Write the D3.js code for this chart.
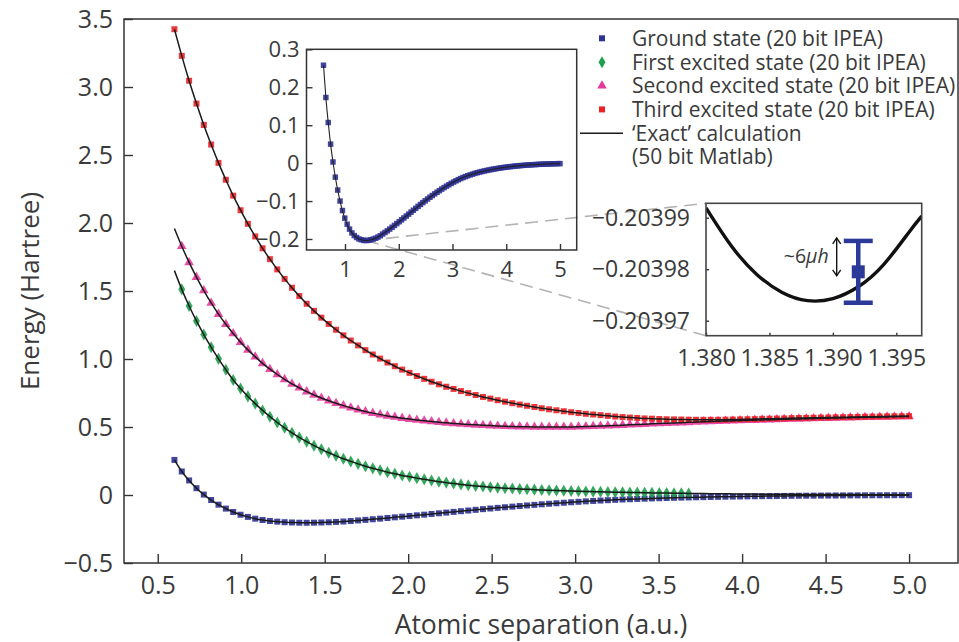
<!DOCTYPE html>
<html>
<head>
<meta charset="utf-8">
<script src="https://cdn.jsdelivr.net/npm/d3@7"></script>
<style>
  html, body { margin: 0; padding: 0; background: #fff; }
  svg { display: block; font-family: "Open Sans", sans-serif; }
</style>
</head>
<body>
<svg id="chart" width="959" height="642"></svg>
<script>
// Atomic separation grid (a.u.)
const separation = [
  0.600, 0.644, 0.688, 0.732, 0.776, 0.820, 0.864, 0.908, 0.952, 0.996,
  1.040, 1.084, 1.128, 1.172, 1.216, 1.260, 1.304, 1.348, 1.392, 1.436,
  1.480, 1.524, 1.568, 1.612, 1.656, 1.700, 1.744, 1.788, 1.832, 1.876,
  1.920, 1.964, 2.008, 2.052, 2.096, 2.140, 2.184, 2.228, 2.272, 2.316,
  2.360, 2.404, 2.448, 2.492, 2.536, 2.580, 2.624, 2.668, 2.712, 2.756,
  2.800, 2.844, 2.888, 2.932, 2.976, 3.020, 3.064, 3.108, 3.152, 3.196,
  3.240, 3.284, 3.328, 3.372, 3.416, 3.460, 3.504, 3.548, 3.592, 3.636,
  3.680, 3.724, 3.768, 3.812, 3.856, 3.900, 3.944, 3.988, 4.032, 4.076,
  4.120, 4.164, 4.208, 4.252, 4.296, 4.340, 4.384, 4.428, 4.472, 4.516,
  4.560, 4.604, 4.648, 4.692, 4.736, 4.780, 4.824, 4.868, 4.912, 4.956,
  5.000
];

// Energies (Hartree) on the separation grid
const groundState = [
  0.258, 0.173, 0.107, 0.050, 0.003, -0.037, -0.071, -0.100, -0.125, -0.145,
  -0.161, -0.174, -0.184, -0.191, -0.196, -0.200, -0.202, -0.2037, -0.2040, -0.2035,
  -0.2022, -0.2003, -0.198, -0.195, -0.1915, -0.187, -0.1828, -0.1784, -0.1738, -0.1691,
  -0.1643, -0.1594, -0.1545, -0.1495, -0.1445, -0.1395, -0.1345, -0.1293, -0.1242, -0.1191,
  -0.1140, -0.1090, -0.1041, -0.0993, -0.0946, -0.0900, -0.0855, -0.0811, -0.0768, -0.0726,
  -0.0685, -0.0645, -0.0607, -0.0570, -0.0534, -0.0500, -0.0467, -0.0436, -0.0407, -0.0380,
  -0.0355, -0.0332, -0.0310, -0.0290, -0.0271, -0.0253, -0.0236, -0.0221, -0.0206, -0.0193,
  -0.0180, -0.0168, -0.0157, -0.0146, -0.0136, -0.0126, -0.0117, -0.0108, -0.0100, -0.0093,
  -0.0086, -0.0079, -0.0073, -0.0067, -0.0062, -0.0057, -0.0052, -0.0048, -0.0044, -0.0040,
  -0.0036, -0.0033, -0.0030, -0.0027, -0.0025, -0.0022, -0.0020, -0.0018, -0.0016, -0.0014,
  -0.0013
];

const firstExcited = [
  1.650, 1.512, 1.390, 1.280, 1.180, 1.087, 1.001, 0.921, 0.846, 0.783,
  0.725, 0.672, 0.622, 0.576, 0.533, 0.494, 0.457, 0.423, 0.392, 0.363,
  0.336, 0.311, 0.288, 0.267, 0.247, 0.229, 0.212, 0.196, 0.182, 0.168,
  0.156, 0.144, 0.134, 0.124, 0.115, 0.106, 0.098, 0.091, 0.084, 0.078,
  0.072, 0.067, 0.062, 0.057, 0.0535, 0.0502, 0.0472, 0.0444, 0.0418, 0.0394,
  0.0371, 0.0350, 0.0330, 0.0311, 0.0294, 0.0277, 0.0262, 0.0247, 0.0233, 0.0220,
  0.0208, 0.0196, 0.0185, 0.0175, 0.0165, 0.0156, 0.0147, 0.0139, 0.0131, 0.0124,
  0.0117, 0.0110, 0.0103, 0.0097, 0.0091, 0.0086, 0.0081, 0.0076, 0.0071, 0.0067,
  0.0063, 0.0059, 0.0056, 0.0052, 0.0049, 0.0046, 0.0043, 0.0041, 0.0038, 0.0036,
  0.0034, 0.0032, 0.0030, 0.0028, 0.0026, 0.0025, 0.0023, 0.0022, 0.0020, 0.0019,
  0.0018
];

const secondExcited = [
  1.960, 1.829, 1.710, 1.602, 1.503, 1.412, 1.330, 1.255, 1.187, 1.124,
  1.067, 1.016, 0.968, 0.925, 0.886, 0.850, 0.817, 0.788, 0.760, 0.736,
  0.713, 0.693, 0.674, 0.657, 0.641, 0.627, 0.614, 0.602, 0.591, 0.5815,
  0.573, 0.5652, 0.558, 0.5514, 0.5454, 0.540, 0.535, 0.5304, 0.5262, 0.5224,
  0.5189, 0.5157, 0.5128, 0.5102, 0.5079, 0.5058, 0.504, 0.5025, 0.5013, 0.5004,
  0.4998, 0.4995, 0.4995, 0.4998, 0.5004, 0.5015, 0.503, 0.5048, 0.5068, 0.509,
  0.5113, 0.5137, 0.5161, 0.5185, 0.5209, 0.5232, 0.5255, 0.5277, 0.5299, 0.532,
  0.5341, 0.5361, 0.5381, 0.540, 0.5419, 0.5437, 0.5455, 0.5472, 0.5489, 0.5505,
  0.5521, 0.5537, 0.5552, 0.5567, 0.5582, 0.5596, 0.561, 0.5624, 0.5637, 0.565,
  0.5663, 0.5675, 0.5687, 0.5699, 0.5711, 0.5722, 0.5733, 0.5744, 0.5755, 0.5765,
  0.5775
];

const thirdExcited = [
  3.425, 3.229, 3.046, 2.878, 2.721, 2.577, 2.442, 2.318, 2.201, 2.094,
  1.994, 1.901, 1.814, 1.734, 1.659, 1.589, 1.524, 1.463, 1.406, 1.354,
  1.304, 1.258, 1.215, 1.174, 1.136, 1.100, 1.065, 1.033, 1.003, 0.974,
  0.947, 0.922, 0.898, 0.875, 0.854, 0.833, 0.814, 0.796, 0.780, 0.764,
  0.749, 0.735, 0.721, 0.709, 0.697, 0.686, 0.675, 0.665, 0.656, 0.647,
  0.638, 0.630, 0.623, 0.616, 0.609, 0.603, 0.597, 0.592, 0.587, 0.582,
  0.577, 0.573, 0.569, 0.566, 0.563, 0.561, 0.559, 0.557, 0.556, 0.555,
  0.554, 0.553, 0.553, 0.553, 0.553, 0.554, 0.555, 0.556, 0.557, 0.558,
  0.560, 0.561, 0.562, 0.563, 0.565, 0.566, 0.567, 0.568, 0.569, 0.570,
  0.571, 0.572, 0.573, 0.574, 0.575, 0.576, 0.577, 0.578, 0.579, 0.579,
  0.580
];

// Index range of the IPEA points for each state
const ipeaFirst = [0, 1, 1, 0];
const ipeaLast = [100, 70, 100, 100];

const stateLabels = [
  "Ground state (20 bit IPEA)",
  "First excited state (20 bit IPEA)",
  "Second excited state (20 bit IPEA)",
  "Third excited state (20 bit IPEA)"
];
const exactLabel = ["\u2018Exact\u2019 calculation", "(50 bit Matlab)"];

// Tick values
const xTicksMain = [0.5, 1.0, 1.5, 2.0, 2.5, 3.0, 3.5, 4.0, 4.5, 5.0];
const yTicksMain = [-0.5, 0, 0.5, 1.0, 1.5, 2.0, 2.5, 3.0, 3.5];
const xTicksInset = [1, 2, 3, 4, 5];
const yTicksInset = [-0.2, -0.1, 0, 0.1, 0.2, 0.3];
const xTicksZoom = [1.380, 1.385, 1.390, 1.395];
const yTicksZoom = [-0.20399, -0.20398, -0.20397];

// Close-up of the ground-state minimum
const zoomSeparation = [1.380, 1.382, 1.384, 1.386, 1.388, 1.390, 1.392, 1.394, 1.396, 1.397];
const zoomExact = [-0.2039919, -0.2039845, -0.2039790, -0.2039755, -0.2039739,
                   -0.2039743, -0.2039766, -0.2039809, -0.2039872, -0.2039903];
const ipeaSeparation = 1.392;
const ipeaEnergy = -0.2039795;
const ipeaError = 0.0000060;

// ---------------------------------------------------------------
const ink = "#3a3a3a";
const frameColor = "#333";
const colors = ["#2e3192", "#1f9e4c", "#e5399b", "#ec2227"];
const symbols = [d3.symbolSquare, d3.symbolDiamond, d3.symbolTriangle, d3.symbolSquare];
const symbolSizes = [36, 42, 40, 36];
const stateValues = [groundState, firstExcited, secondExcited, thirdExcited];

const svg = d3.select("#chart");

function styleAxis(g, size) {
  g.select(".domain").remove();
  g.selectAll(".tick line").attr("stroke", frameColor).attr("stroke-width", 1.4);
  g.selectAll(".tick text")
    .attr("fill", ink)
    .style("font-size", size + "px")
    .style("font-family", "'Open Sans', sans-serif");
}
const fmtTenths = d => (d === 0 ? "0" : d3.format(".1f")(d));

// ---------------- main panel ----------------
const xMain = d3.scaleLinear().domain([0.298, 5.293]).range([124, 958]);
const yMain = d3.scaleLinear().domain([-0.5, 3.5]).range([563, 19]);

svg.append("g").attr("transform", "translate(0,563)")
  .call(d3.axisBottom(xMain).tickValues(xTicksMain).tickSize(-9).tickPadding(13)
    .tickFormat(d3.format(".1f")))
  .call(g => styleAxis(g, 25));

svg.append("g").attr("transform", "translate(124,0)")
  .call(d3.axisLeft(yMain).tickValues(yTicksMain).tickSize(-9).tickPadding(11)
    .tickFormat(fmtTenths))
  .call(g => styleAxis(g, 25));

svg.append("rect")
  .attr("x", xMain.range()[0]).attr("y", yMain.range()[1])
  .attr("width", xMain.range()[1] - xMain.range()[0])
  .attr("height", yMain.range()[0] - yMain.range()[1])
  .attr("fill", "none").attr("stroke", frameColor).attr("stroke-width", 1.5);

svg.append("text")
  .attr("x", (xMain.range()[0] + xMain.range()[1]) / 2).attr("y", 634)
  .attr("text-anchor", "middle").attr("fill", ink).style("font-size", "26.5px")
  .text("Atomic separation (a.u.)");

svg.append("text")
  .attr("transform", `translate(39,${(yMain.range()[0] + yMain.range()[1]) / 2}) rotate(-90)`)
  .attr("text-anchor", "middle").attr("fill", ink).style("font-size", "26px")
  .text("Energy (Hartree)");

// IPEA points
const mainPoints = svg.append("g");
stateValues.forEach((vals, s) => {
  const pts = separation.map((r, i) => ({ r, e: vals[i], i }))
    .filter(p => p.i >= ipeaFirst[s] && p.i <= ipeaLast[s]);
  mainPoints.selectAll(null).data(pts).enter().append("path")
    .attr("d", d3.symbol().type(symbols[s]).size(symbolSizes[s]))
    .attr("transform", p => `translate(${xMain(p.r)},${yMain(p.e)})`)
    .attr("fill", colors[s]).attr("fill-opacity", 0.9);
});

// exact curves
const mainLine = d3.line()
  .x((d, i) => xMain(separation[i]))
  .y(d => yMain(d))
  .curve(d3.curveMonotoneX);
stateValues.forEach(vals => {
  svg.append("path").attr("d", mainLine(vals))
    .attr("fill", "none").attr("stroke", "#1a1a1a").attr("stroke-width", 1.5);
});

// ---------------- legend ----------------
const legendX = 602, legendTextX = 632;
const legendRows = [38.3, 62.2, 85.8, 109.4, 133.2, 156.8];
const legend = svg.append("g").style("font-size", "21px").attr("fill", ink);
stateLabels.forEach((lab, s) => {
  legend.append("path")
    .attr("d", d3.symbol().type(symbols[s]).size(symbolSizes[s])())
    .attr("transform", `translate(${legendX},${legendRows[s]})`)
    .attr("fill", colors[s]);
  legend.append("text").attr("x", legendTextX).attr("y", legendRows[s] + 7.5).text(lab);
});
legend.append("line")
  .attr("x1", 580).attr("x2", 623).attr("y1", legendRows[4]).attr("y2", legendRows[4])
  .attr("stroke", "#1a1a1a").attr("stroke-width", 1.5);
exactLabel.forEach((lab, k) => {
  legend.append("text").attr("x", legendTextX).attr("y", legendRows[4 + k] + 7.5).text(lab);
});

// ---------------- inset: ground state ----------------
const xIn = d3.scaleLinear().domain([0.2837, 5.3107]).range([306.5, 576.7]);
const yIn = d3.scaleLinear().domain([-0.229, 0.3]).range([250, 49.3]);

svg.append("rect")
  .attr("x", xIn.range()[0]).attr("y", yIn.range()[1])
  .attr("width", xIn.range()[1] - xIn.range()[0])
  .attr("height", yIn.range()[0] - yIn.range()[1])
  .attr("fill", "#fff");

// guide lines to the close-up
const zx = d3.scaleLinear().domain([1.380, 1.397]).range([706, 921.7]);
const zy = d3.scaleLinear().domain([-0.2039928, -0.2039671]).range([203.3, 335.7]);
const guideFrom = [xIn(1.392), yIn(-0.204)];
[[zx.range()[0], zy.range()[0]], [zx.range()[0], zy.range()[1]]].forEach(end => {
  svg.append("line")
    .attr("x1", guideFrom[0]).attr("y1", guideFrom[1])
    .attr("x2", end[0]).attr("y2", end[1])
    .attr("stroke", "#b3b3b3").attr("stroke-width", 1.6)
    .attr("stroke-dasharray", "13,7");
});

svg.append("g").attr("transform", `translate(0,${yIn.range()[0]})`)
  .call(d3.axisBottom(xIn).tickValues(xTicksInset).tickSize(-6).tickPadding(11)
    .tickFormat(d3.format("d")))
  .call(g => styleAxis(g, 22));
svg.append("g").attr("transform", `translate(${xIn.range()[0]},0)`)
  .call(d3.axisLeft(yIn).tickValues(yTicksInset).tickSize(-6).tickPadding(7)
    .tickFormat(fmtTenths))
  .call(g => styleAxis(g, 22));

svg.append("g").selectAll("path").data(separation).enter().append("path")
  .attr("d", d3.symbol().type(d3.symbolSquare).size(30))
  .attr("transform", (r, i) => `translate(${xIn(r)},${yIn(groundState[i])})`)
  .attr("fill", colors[0]).attr("fill-opacity", 0.9);

const insetLine = d3.line()
  .x((d, i) => xIn(separation[i]))
  .y(d => yIn(d))
  .curve(d3.curveMonotoneX);
svg.append("path").attr("d", insetLine(groundState))
  .attr("fill", "none").attr("stroke", "#222").attr("stroke-width", 1.1);

svg.append("rect")
  .attr("x", xIn.range()[0]).attr("y", yIn.range()[1])
  .attr("width", xIn.range()[1] - xIn.range()[0])
  .attr("height", yIn.range()[0] - yIn.range()[1])
  .attr("fill", "none").attr("stroke", frameColor).attr("stroke-width", 1.5);

// ---------------- close-up of the minimum ----------------
svg.append("defs").append("clipPath").attr("id", "zoomClip")
  .append("rect")
  .attr("x", zx.range()[0]).attr("y", zy.range()[0])
  .attr("width", zx.range()[1] - zx.range()[0])
  .attr("height", zy.range()[1] - zy.range()[0]);

svg.append("rect")
  .attr("x", zx.range()[0]).attr("y", zy.range()[0])
  .attr("width", zx.range()[1] - zx.range()[0])
  .attr("height", zy.range()[1] - zy.range()[0])
  .attr("fill", "#fff");

svg.append("g").attr("transform", `translate(0,${zy.range()[1]})`)
  .call(d3.axisBottom(zx).tickValues(xTicksZoom).tickSize(-3).tickPadding(14)
    .tickFormat(d3.format(".3f")))
  .call(g => styleAxis(g, 23));
svg.append("g").attr("transform", `translate(${zx.range()[0]},0)`)
  .call(d3.axisLeft(zy).tickValues(yTicksZoom).tickSize(-3).tickPadding(16)
    .tickFormat(d3.format(".5f")))
  .call(g => styleAxis(g, 23));

const zoomLine = d3.line()
  .x((d, i) => zx(zoomSeparation[i]))
  .y(d => zy(d))
  .curve(d3.curveNatural);
svg.append("path").attr("d", zoomLine(zoomExact))
  .attr("clip-path", "url(#zoomClip)")
  .attr("fill", "none").attr("stroke", "#111").attr("stroke-width", 3.4);

// IPEA estimate with its error bar
const barColor = "#2b3a98";
const bx = zx(ipeaSeparation);
const yUpper = zy(ipeaEnergy - ipeaError), yLower = zy(ipeaEnergy + ipeaError), yMid = zy(ipeaEnergy);
const bar = svg.append("g").attr("stroke", barColor).attr("stroke-width", 4.5);
bar.append("line").attr("x1", bx).attr("x2", bx).attr("y1", yUpper).attr("y2", yLower);
bar.append("line").attr("x1", bx - 14.5).attr("x2", bx + 14.5).attr("y1", yUpper).attr("y2", yUpper);
bar.append("line").attr("x1", bx - 14.5).attr("x2", bx + 14.5).attr("y1", yLower).attr("y2", yLower);
svg.append("rect").attr("x", bx - 6.5).attr("y", yMid - 6.5).attr("width", 13).attr("height", 13)
  .attr("fill", barColor);

// ~6 μh marker
const ax = zx(1.3903);
const arrowTop = yUpper - 3, arrowBottom = yMid + 4;
const arrow = svg.append("g").attr("stroke", "#111").attr("stroke-width", 1.4).attr("fill", "none");
arrow.append("line").attr("x1", ax).attr("x2", ax).attr("y1", arrowTop).attr("y2", arrowBottom);
arrow.append("polyline").attr("points", `${ax - 4},${arrowTop + 6} ${ax},${arrowTop} ${ax + 4},${arrowTop + 6}`);
arrow.append("polyline").attr("points", `${ax - 4},${arrowBottom - 6} ${ax},${arrowBottom} ${ax + 4},${arrowBottom - 6}`);

const note = svg.append("text").attr("x", ax - 8).attr("y", (arrowTop + arrowBottom) / 2 + 6)
  .attr("text-anchor", "end").attr("fill", ink).style("font-size", "19.5px");
note.append("tspan").text("~6");
note.append("tspan").style("font-style", "italic").text("\u03bch");

svg.append("rect")
  .attr("x", zx.range()[0]).attr("y", zy.range()[0])
  .attr("width", zx.range()[1] - zx.range()[0])
  .attr("height", zy.range()[1] - zy.range()[0])
  .attr("fill", "none").attr("stroke", "#444").attr("stroke-width", 1.6);
</script>
</body>
</html>
